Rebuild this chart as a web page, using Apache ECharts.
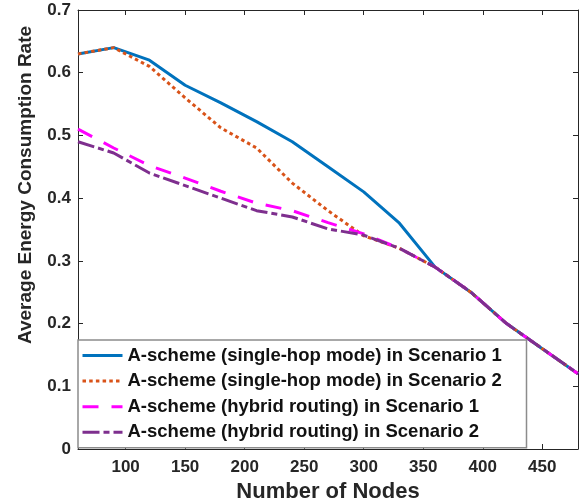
<!DOCTYPE html>
<html>
<head>
<meta charset="utf-8">
<script src="https://cdn.jsdelivr.net/npm/echarts@6/dist/echarts.min.js"></script>
<style>
html,body{margin:0;padding:0;background:#fff;}
#chart{width:586px;height:499px;}
</style>
</head>
<body>
<div id="chart"></div>
<script>
var nodes = [60, 90, 120, 150, 180, 210, 240, 270, 300, 330, 360, 390, 420, 450, 480];
var singleHopS1 = [0.63, 0.64, 0.62, 0.58, 0.552, 0.522, 0.49, 0.45, 0.41, 0.36, 0.29, 0.25, 0.20, 0.16, 0.12];
var singleHopS2 = [0.63, 0.64, 0.61, 0.56, 0.512, 0.48, 0.424, 0.38, 0.34, 0.32, 0.29, 0.25, 0.20, 0.16, 0.12];
var hybridS1 = [0.51, 0.48, 0.452, 0.432, 0.411, 0.392, 0.38, 0.361, 0.343, 0.32, 0.29, 0.25, 0.20, 0.16, 0.12];
var hybridS2 = [0.49, 0.472, 0.44, 0.42, 0.40, 0.38, 0.37, 0.351, 0.341, 0.32, 0.29, 0.25, 0.20, 0.16, 0.12];
var seriesNames = [
  'A-scheme (single-hop mode) in Scenario 1',
  'A-scheme (single-hop mode) in Scenario 2',
  'A-scheme (hybrid routing) in Scenario 1',
  'A-scheme (hybrid routing) in Scenario 2'
];
var xTitle = 'Number of Nodes';
var yTitle = 'Average Energy Consumption Rate';
var xTicks = [100, 150, 200, 250, 300, 350, 400, 450];

function pairs(ys) { return nodes.map(function (x, i) { return [x, ys[i]]; }); }

var FONT = "'Liberation Sans', Arial, sans-serif";
var AX = '#262626';
var chart = echarts.init(document.getElementById('chart'), null, {renderer: 'canvas'});

function mkX(pos, main) {
  return {
    type: 'value', position: pos, min: 60, max: 480,
    name: main ? xTitle : '', nameLocation: 'middle', nameGap: 26,
    nameTextStyle: {fontFamily: FONT, fontWeight: 'bold', fontSize: 22, color: AX},
    axisLine: {show: true, onZero: false, lineStyle: {color: AX, width: 1}},
    axisTick: {show: true, inside: true, length: 5, customValues: xTicks, lineStyle: {color: AX}},
    axisLabel: {show: main, customValues: xTicks, fontFamily: FONT, fontWeight: 'bold', fontSize: 17, color: AX, margin: 10},
    splitLine: {show: false}
  };
}
function mkY(pos, main) {
  return {
    type: 'value', position: pos, min: 0, max: 0.7, interval: 0.1,
    axisLine: {show: true, onZero: false, lineStyle: {color: AX, width: 1}},
    axisTick: {show: true, inside: true, length: 5, lineStyle: {color: AX}},
    axisLabel: {show: main, fontFamily: FONT, fontWeight: 'bold', fontSize: 17, color: AX, margin: 7,
      formatter: function (v) { return v === 0 ? '0' : v.toFixed(1); }},
    splitLine: {show: false}
  };
}

var colors = ['#0072BD', '#D95319', '#FF00FF', '#7E2F8E'];
var dashes = ['solid', [3.5, 3.2], [16, 13], [17, 4, 6, 4]];
var datas = [singleHopS1, singleHopS2, hybridS1, hybridS2];

var series = datas.map(function (d, i) {
  return {
    name: seriesNames[i], type: 'line', data: pairs(d),
    xAxisIndex: 0, yAxisIndex: 0,
    symbol: 'none', showSymbol: false, smooth: false,
    color: colors[i],
    lineStyle: {color: colors[i], width: 3, type: dashes[i], cap: 'butt'},
    z: 2 + i
  };
});

chart.setOption({
  animation: false,
  backgroundColor: '#fff',
  grid: {left: 78, right: 8, top: 10, bottom: 50, containLabel: false, outerBoundsMode: 'none'},
  xAxis: [mkX('bottom', true), mkX('top', false)],
  yAxis: [mkY('left', true), mkY('right', false)],
  graphic: [{
    type: 'text', x: 26, y: 185, rotation: Math.PI / 2,
    style: {text: yTitle, fontFamily: FONT, fontWeight: 'bold', fontSize: 19, fill: AX,
      align: 'center', verticalAlign: 'middle'}
  }],
  legend: {
    orient: 'vertical', left: 78, top: 340,
    data: seriesNames,
    itemWidth: 40, itemHeight: 14, itemGap: 6.6,
    padding: [6, 3, 6, 3],
    backgroundColor: '#fff',
    borderColor: '#8c8c8c', borderWidth: 1.5, borderRadius: 0,
    lineStyle: {width: 3},
    itemStyle: {color: 'rgba(0,0,0,0)', borderColor: 'rgba(0,0,0,0)', borderWidth: 0, opacity: 0},
    textStyle: {fontFamily: FONT, fontWeight: 'bold', fontSize: 18.5, color: '#111', lineHeight: 18, width: 396},
    z: 10
  },
  series: series
});
</script>
</body>
</html>
